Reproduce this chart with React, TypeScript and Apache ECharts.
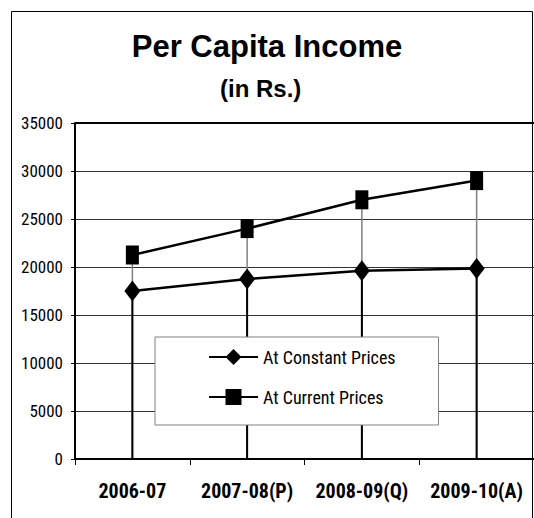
import React, { useEffect, useRef } from "react";
import * as echarts from "echarts";

const categories = ["2006-07", "2007-08(P)", "2008-09(Q)", "2009-10(A)"];
const constantPrices = [17500, 18750, 19600, 19850];
const currentPrices = [21250, 24000, 27000, 29000];
const seriesNames = ["At Constant Prices", "At Current Prices"];
const titleText = "Per Capita Income";
const subTitleText = "(in Rs.)";

const SANS = "'Liberation Sans', Arial, sans-serif";
const NARROW = "'Roboto Condensed', 'Liberation Sans', sans-serif";

export default function App() {
  const ref = useRef<HTMLDivElement>(null);
  useEffect(() => {
    if (!ref.current) return;
    const chart = echarts.init(ref.current, null, { renderer: "svg" });
    const dropLine = (color: string, width: number) => (params: any, api: any) => {
      const top = api.coord([api.value(0), api.value(1)]);
      const base = api.coord([api.value(0), 0]);
      return {
        type: "line",
        shape: { x1: top[0], y1: top[1], x2: base[0], y2: base[1] },
        style: { stroke: color, lineWidth: width },
      };
    };
    chart.setOption({
      animation: false,
      backgroundColor: "#fff",
      title: [
        {
          text: titleText,
          left: "center",
          top: 26,
          textStyle: { fontFamily: SANS, fontWeight: "bold", fontSize: 31, color: "#000" },
        },
        {
          text: subTitleText,
          left: 215,
          top: 71,
          textStyle: { fontFamily: SANS, fontWeight: "bold", fontSize: 24, color: "#000" },
        },
      ],
      graphic: [
        {
          type: "rect",
          shape: { x: 11.5, y: 11.5, width: 521, height: 530 },
          style: { fill: "none", stroke: "#000", lineWidth: 1 },
          z: -1,
        },
      ],
      legend: {
        data: seriesNames,
        orient: "vertical",
        left: 155,
        top: 337,
        itemWidth: 49,
        itemHeight: 20,
        itemGap: 22,
        padding: [11, 43, 19, 53],
        backgroundColor: "#fff",
        borderColor: "#808080",
        borderWidth: 1,
        textStyle: { fontFamily: NARROW, fontSize: 18, color: "#000" },
        z: 10,
      },
      grid: { left: 75, top: 123, width: 460, height: 336, containLabel: false },
      xAxis: {
        type: "category",
        data: categories,
        boundaryGap: true,
        axisLine: { lineStyle: { color: "#000", width: 2 } },
        axisTick: { show: true, length: 6, lineStyle: { color: "#000", width: 1 } },
        axisLabel: {
          margin: 22,
          fontFamily: NARROW,
          fontWeight: "bold",
          fontSize: 20,
          color: "#000",
          interval: 0,
        },
        splitLine: { show: false },
      },
      yAxis: {
        type: "value",
        min: 0,
        max: 35000,
        interval: 5000,
        axisLine: { show: true, lineStyle: { color: "#000", width: 2 } },
        axisTick: { show: true, length: 4, lineStyle: { color: "#000", width: 1 } },
        axisLabel: {
          margin: 12,
          fontFamily: NARROW,
          fontSize: 17,
          color: "#000",
          formatter: (v: number) => String(v),
        },
        splitLine: { show: true, lineStyle: { color: "#333", width: 1 } },
      },
      series: [
        {
          name: "drop-current",
          type: "custom",
          renderItem: dropLine("#808080", 1.5),
          data: currentPrices.map((v, i) => [i, v]),
          z: 1,
          silent: true,
        },
        {
          name: "drop-constant",
          type: "custom",
          renderItem: dropLine("#000", 2),
          data: constantPrices.map((v, i) => [i, v]),
          z: 1,
          silent: true,
        },
        {
          name: seriesNames[0],
          type: "line",
          data: constantPrices,
          symbol: "diamond",
          symbolSize: [16, 21],
          lineStyle: { color: "#000", width: 2.5 },
          itemStyle: { color: "#000" },
          z: 3,
        },
        {
          name: seriesNames[1],
          type: "line",
          data: currentPrices,
          symbol: "rect",
          symbolSize: [13, 19],
          lineStyle: { color: "#000", width: 2.5 },
          itemStyle: { color: "#000" },
          z: 3,
          markLine: {
            silent: true,
            symbol: "none",
            label: { show: false },
            lineStyle: { color: "#000", width: 2, type: "solid" },
            data: [{ yAxis: 35000 }],
          },
        },
      ],
    });
    return () => chart.dispose();
  }, []);
  return (
    <div
      ref={ref}
      style={{ position: "absolute", left: 0, top: 0, width: 534, height: 518 }}
    />
  );
}
